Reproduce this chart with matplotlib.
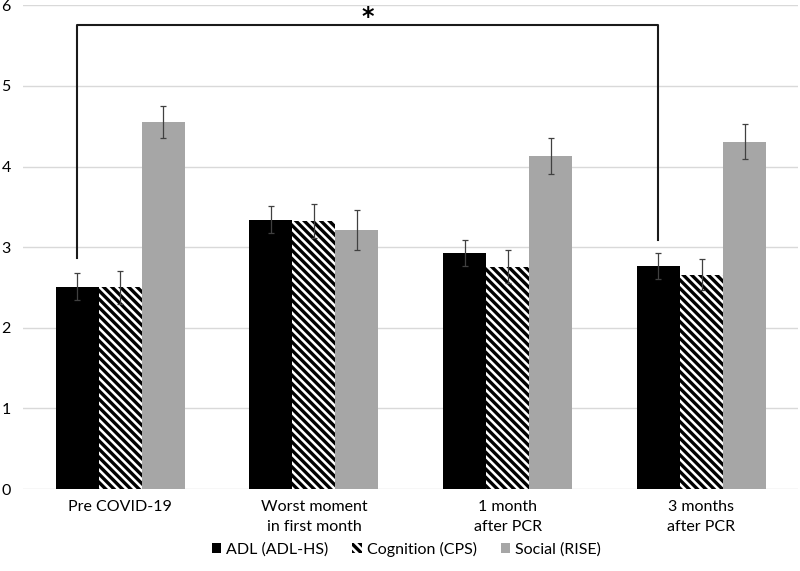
import numpy as np
import matplotlib
matplotlib.use("Agg")
import matplotlib.pyplot as plt
from matplotlib.patches import Patch

plt.rcParams['font.family'] = ['Lato', 'DejaVu Sans']
plt.rcParams['hatch.linewidth'] = 2.4

# -----------------------------
# Data
# -----------------------------
categories = ["Pre COVID-19", "Worst moment\nin first month", "1 month\nafter PCR", "3 months\nafter PCR"]
series = ["ADL (ADL-HS)", "Cognition (CPS)", "Social (RISE)"]

adl = [2.51, 3.34, 2.93, 2.77]
adl_err = [0.17, 0.17, 0.16, 0.16]
cps = [2.50, 3.32, 2.76, 2.66]
cps_err = [0.20, 0.21, 0.20, 0.19]
rise = [4.55, 3.21, 4.13, 4.31]
rise_err = [0.20, 0.25, 0.22, 0.22]

# significance bracket between Pre COVID-19 and 3 months (ADL)
sig_pair = (0, 3)
sig_level = 5.76
sig_label = "*"

# -----------------------------
# Figure
# -----------------------------
fig = plt.figure(figsize=(8, 5.71), dpi=100)
ax = fig.add_axes([0.029, 0.1436, 0.969, 0.847])

x = np.arange(len(categories))
w = 0.222
hatch = "\\" * 4

err_kw = dict(ecolor="#404040", elinewidth=0.9, capsize=2.5, capthick=0.9)

ax.bar(x - w, adl, w, color="black", yerr=adl_err, error_kw=err_kw, zorder=2)
ax.bar(x, cps, w, color="white", edgecolor="black", linewidth=0, hatch=hatch,
       yerr=cps_err, error_kw=err_kw, zorder=2)
ax.bar(x + w, rise, w, color="#a6a6a6", yerr=rise_err, error_kw=err_kw, zorder=2)

# significance bracket
x0 = x[sig_pair[0]] - w
x1 = x[sig_pair[1]] - w
y0 = adl[sig_pair[0]] + adl_err[sig_pair[0]] + 0.19
y1 = adl[sig_pair[1]] + adl_err[sig_pair[1]] + 0.16
ax.plot([x0, x0, x1, x1], [y0, sig_level, sig_level, y1], color="#1a1a1a", lw=1.5,
        zorder=3, clip_on=False)
ax.text((x0 + x1) / 2, sig_level + 0.1, sig_label, ha="center", va="center",
        fontsize=17, fontweight="bold", family="DejaVu Sans")

ax.set_xlim(-0.5, 3.5)
ax.set_ylim(0, 6)
ax.set_yticks(range(7))
ax.set_xticks(x)
ax.set_xticklabels(categories, fontsize=11.5, linespacing=1.55)
ax.tick_params(axis="y", labelsize=11.5, length=0, pad=9)
ax.tick_params(axis="x", length=0, pad=8)
ax.grid(axis="y", color="#d9d9d9", lw=1)
ax.set_axisbelow(True)
for s in ax.spines.values():
    s.set_visible(False)

handles = [
    Patch(facecolor="black", label=series[0]),
    Patch(facecolor="white", edgecolor="black", linewidth=0, hatch=hatch, label=series[1]),
    Patch(facecolor="#a6a6a6", label=series[2]),
]
fig.legend(handles=handles, loc="center", bbox_to_anchor=(0.508, 0.038), ncol=3,
           frameon=False, fontsize=11.5, handlelength=0.6, handleheight=0.6,
           handletextpad=0.3, columnspacing=1.5)

fig.savefig("out.png", dpi=100)
